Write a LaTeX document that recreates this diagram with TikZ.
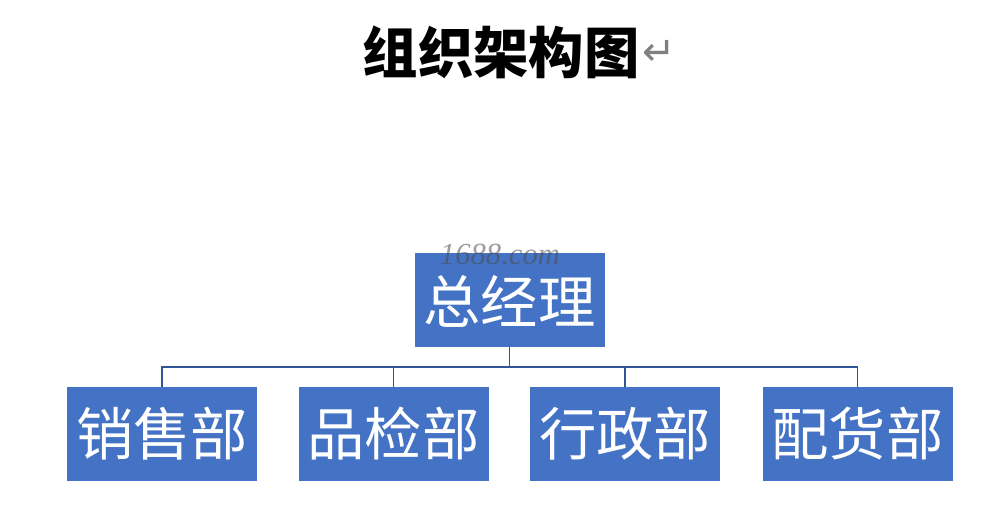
\documentclass[tikz,border=0pt]{standalone}
\usepackage{fontspec}
\newfontfamily\cjk{Noto Sans CJK SC}
\newfontfamily\symfont{DejaVu Sans}
\setmainfont{Liberation Serif}
\definecolor{officeblue}{HTML}{4472C4}
\definecolor{linkblue}{HTML}{2F5597}
\usetikzlibrary{positioning}

\begin{document}
\begin{tikzpicture}[x=0.75pt,y=-0.75pt,unit/.style={fill=officeblue, text=white, minimum width=142.5pt, minimum height=70pt, inner sep=0pt, font=\cjk\fontsize{43}{46}\selectfont},link/.style={draw=linkblue, line width=1.1pt}]
\useasboundingbox (0,0) rectangle (999,517);
\node[font=\cjk\bfseries\fontsize{41.5}{44}\selectfont, inner sep=0pt] (title) at (501,52) {组织架构图};
\node[right=2pt of title, font=\symfont\fontsize{30}{32}\selectfont, text=gray, inner sep=0pt, yshift=-1pt] (ret) {↵};
\node[unit, text depth=0pt, yshift=-1pt] (boss) at (509.5,298.5) {总经理};
\node[font=\itshape\fontsize{23}{24}\selectfont, text=black!70, opacity=0.55, inner sep=0pt] (mark) at (500,255) {1688.com};
\node[unit] (sales) at (162,434) {销售部};
\node[unit] (qc) at (393.5,434) {品检部};
\node[unit] (admin) at (625,434) {行政部};
\node[unit] (dist) at (857.5,434) {配货部};
\coordinate (bus) at (509.5,367);
\draw[link] (boss.south) -- (bus);
\foreach \d in {sales,qc,admin,dist} \draw[link] (bus) -| (\d.north);
\end{tikzpicture}
\end{document}
